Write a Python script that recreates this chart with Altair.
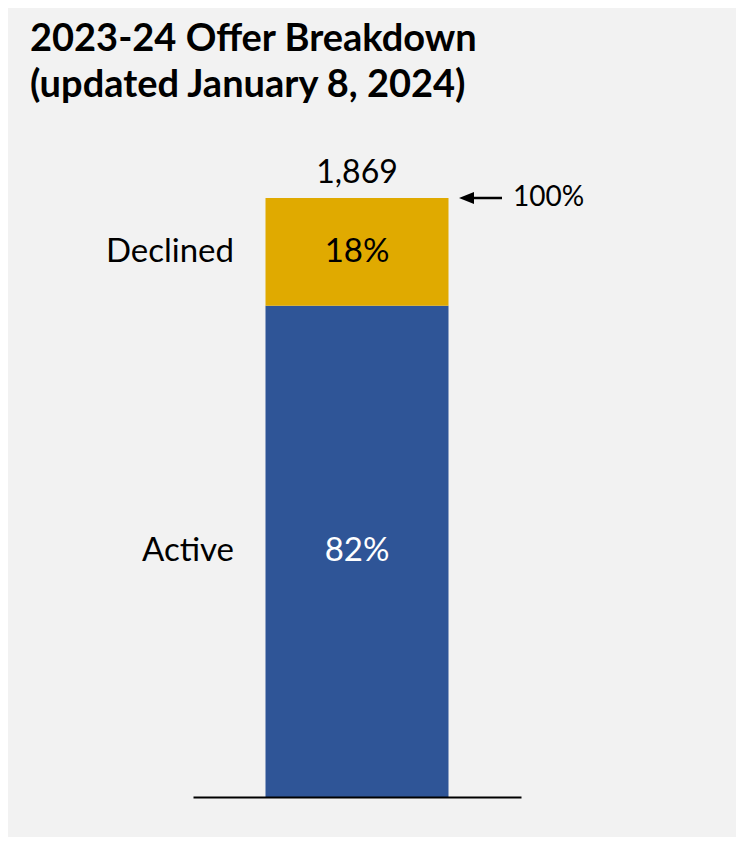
import altair as alt
import pandas as pd

# ---- data ----
categories = ["Active", "Declined"]
percents = [82, 18]
stack_order = [1, 2]
bar_name = ["2023-24"]
total_offers = [1869]
total_percent = [100]

bar_colors = ["#2F5597", "#E0AA00"]
FONT = "Lato"

df = pd.DataFrame({
    "bar": bar_name * len(categories),
    "cat": categories,
    "pct": percents,
    "order": stack_order,
})
tot = pd.DataFrame({"bar": bar_name, "top": total_percent, "total": total_offers})

x_enc = alt.X(
    "bar:N",
    title=None,
    axis=alt.Axis(labels=False, ticks=False, domain=True, domainColor="black",
                  domainWidth=2, grid=False, zindex=1),
)
y_scale = alt.Scale(domain=[0, 100], nice=False, zero=True)

base = (
    alt.Chart(df)
    .transform_stack(stack="pct", groupby=["bar"], sort=[alt.SortField("order")], as_=["y0", "y1"])
    .transform_calculate(mid="(datum.y0 + datum.y1) / 2", label="datum.pct + '%'")
)

bars = base.mark_bar(size=183).encode(
    x=x_enc,
    y=alt.Y("y0:Q", scale=y_scale, axis=None),
    y2="y1:Q",
    color=alt.Color("cat:N", scale=alt.Scale(domain=categories, range=bar_colors), legend=None),
)

pct_text = base.mark_text(font=FONT, fontSize=33, baseline="middle").encode(
    x="bar:N",
    y=alt.Y("mid:Q", scale=y_scale),
    text="label:N",
    color=alt.condition(alt.datum.cat == "Active", alt.value("white"), alt.value("black")),
)

cat_text = base.mark_text(font=FONT, fontSize=33, baseline="middle", align="right", dx=-123,
                          color="black").encode(
    x="bar:N",
    y=alt.Y("mid:Q", scale=y_scale),
    text="cat:N",
)

tot_base = alt.Chart(tot).transform_calculate(top_label="datum.top + '%'")

total_text = tot_base.mark_text(font=FONT, fontSize=32, baseline="alphabetic", dy=-15,
                                color="black").encode(
    x="bar:N",
    y=alt.Y("top:Q", scale=y_scale),
    text=alt.Text("total:Q", format=","),
)

arrow_line = tot_base.mark_rule(color="black", strokeWidth=2.5).encode(
    x=alt.value(274), x2=alt.value(309), y=alt.Y("top:Q", scale=y_scale)
)
arrow_head = tot_base.mark_point(
    shape="M -1 0 L 1 -0.8 L 1 0.8 Z", filled=True, size=225, color="black", opacity=1
).encode(x=alt.value(273.5), y=alt.Y("top:Q", scale=y_scale))

pct100_text = tot_base.mark_text(font=FONT, fontSize=28, baseline="middle", align="left",
                                 color="black").encode(
    x=alt.value(320), y=alt.Y("top:Q", scale=y_scale), text="top_label:N"
)

chart = (
    alt.layer(bars, pct_text, cat_text, total_text, arrow_line, arrow_head, pct100_text)
    .properties(
        width=328,
        height=599,
        autosize=alt.AutoSizeParams(type="none"),
        padding={"left": 185, "top": 190, "right": 215, "bottom": 40},
        title=alt.TitleParams(
            text=["2023-24 Offer Breakdown", "(updated January 8, 2024)"],
            anchor="start",
            frame="group",
            font=FONT,
            fontSize=38,
            fontWeight="bold",
            color="black",
            lineHeight=46,
            baseline="alphabetic",
            dx=-163,
            dy=-22,
            offset=0,
        ),
    )
    .configure(background="#f2f2f2")
    .configure_view(stroke=None)
)

chart.save("out.html", embed_options={"renderer": "svg", "actions": False})
